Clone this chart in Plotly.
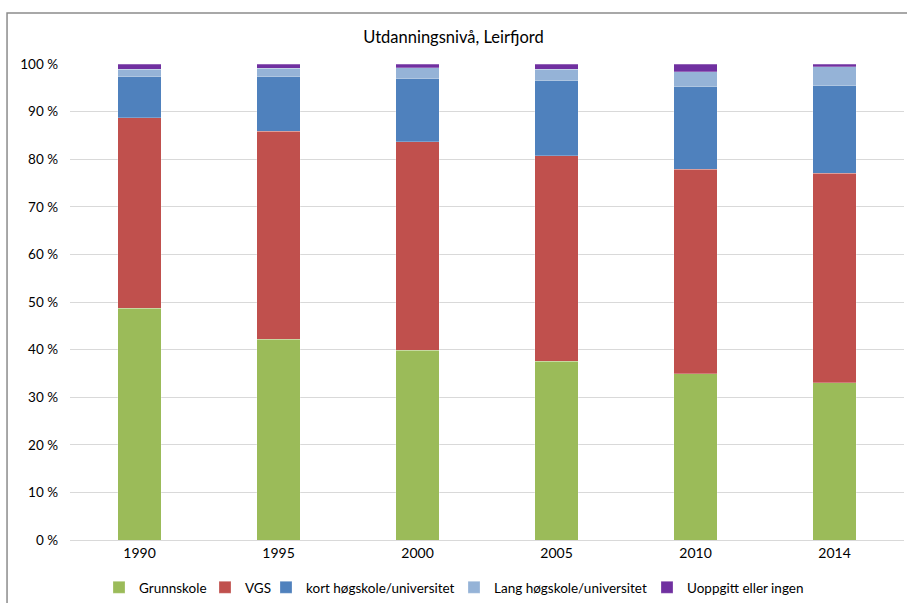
import plotly.graph_objects as go

years = ["1990", "1995", "2000", "2005", "2010", "2014"]
grunnskole = [48.7, 42.2, 39.9, 37.6, 34.9, 33.0]
vgs = [40.0, 43.7, 43.8, 43.1, 43.0, 44.1]
kort = [8.6, 11.4, 13.2, 15.8, 17.3, 18.3]
lang = [1.6, 1.8, 2.3, 2.4, 3.2, 4.0]
uoppgitt = [1.1, 0.9, 0.8, 1.1, 1.6, 0.6]

series = [
    ("Grunnskole", grunnskole, "#9BBB59"),
    ("VGS", vgs, "#C0504D"),
    ("kort høgskole/universitet", kort, "#4F81BD"),
    ("Lang høgskole/universitet", lang, "#95B3D7"),
    ("Uoppgitt eller ingen", uoppgitt, "#7030A0"),
]
legend_text_x = [139, 245, 306, 494, 687]

font = "Lato, 'Open Sans', sans-serif"
fig = go.Figure()
legend_names = ["legend", "legend2", "legend3", "legend4", "legend5"]
for (name, vals, col), lg in zip(series, legend_names):
    fig.add_trace(go.Bar(x=years, y=vals, name=name, legend=lg,
                         marker=dict(color=col, line=dict(color="rgba(255,255,255,0.5)", width=0.5)),
                         width=0.31))

legends = {}
for lg, tx in zip(legend_names, legend_text_x):
    legends[lg] = dict(orientation="h", xref="container", yref="container",
                       x=(tx - 40) / 907, xanchor="left", y=1 - 587.5 / 603, yanchor="middle",
                       font=dict(family=font, size=13.5, color="#000000"), itemwidth=30,
                       bgcolor="rgba(0,0,0,0)")

fig.update_layout(
    barmode="stack",
    width=907, height=603,
    margin=dict(l=70, r=3, t=64, b=63),
    paper_bgcolor="white", plot_bgcolor="white",
    font=dict(family=font, size=13, color="#000000"),
    title=dict(text="Utdanningsnivå, Leirfjord", x=0.5, xanchor="center", y=0.938, yanchor="middle",
               font=dict(family=font, size=16.5, color="#000000")),
    xaxis=dict(showgrid=False, showline=True, linecolor="#D9D9D9", ticks="", tickfont=dict(size=14)),
    yaxis=dict(range=[0, 100], dtick=10, ticksuffix=" %", showgrid=True, gridcolor="#D9D9D9",
               zeroline=False, tickfont=dict(size=13.5), ticklabelstandoff=11),
    bargap=0.69,
    showlegend=True,
    **legends,
)
fig.add_shape(type="rect", xref="paper", yref="paper", x0=-0.0755, x1=1.2, y0=-0.3, y1=1.107,
              line=dict(color="#8C8C8C", width=1.5), fillcolor="rgba(0,0,0,0)", layer="below")
fig.write_html("out.html")
